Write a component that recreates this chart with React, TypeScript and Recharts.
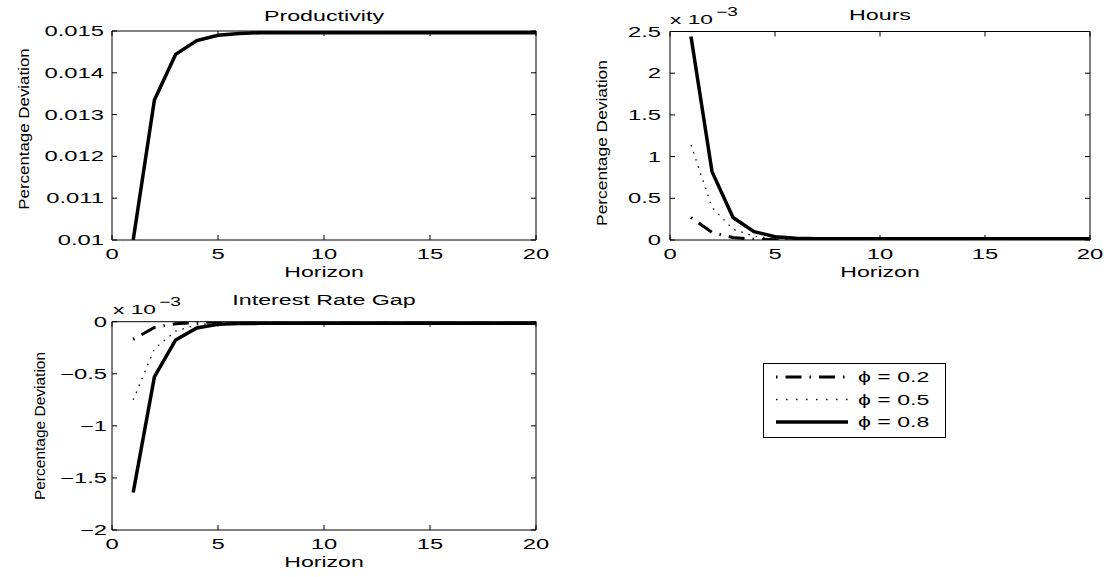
import React from 'react';
import { LineChart, Line, XAxis, YAxis, Legend, Label } from 'recharts';

// ---------- data ----------
const horizon = [1, 2, 3, 4, 5, 6, 7, 8, 9, 10, 11, 12, 13, 14, 15, 16, 17, 18, 19, 20];
const productivity = [0.01, 0.01335, 0.01444, 0.01477, 0.0149, 0.01494, 0.01496, 0.01496, 0.01496, 0.01496, 0.01496, 0.01496, 0.01496, 0.01496, 0.01496, 0.01496, 0.01496, 0.01496, 0.01496, 0.01496];
// hours, in units of 10^-3
const hoursPhi02 = [0.27, 0.09, 0.03, 0.01, 0.004, 0.002, 0.001, 0, 0, 0, 0, 0, 0, 0, 0, 0, 0, 0, 0, 0];
const hoursPhi05 = [1.14, 0.39, 0.13, 0.045, 0.016, 0.006, 0.002, 0.001, 0, 0, 0, 0, 0, 0, 0, 0, 0, 0, 0, 0];
const hoursPhi08 = [2.44, 0.82, 0.27, 0.1, 0.04, 0.02, 0.016, 0.015, 0.015, 0.015, 0.015, 0.015, 0.015, 0.015, 0.015, 0.015, 0.015, 0.015, 0.015, 0.015];
// interest rate gap, in units of 10^-3
const gapPhi02 = [-0.17, -0.055, -0.02, -0.007, -0.002, -0.001, 0, 0, 0, 0, 0, 0, 0, 0, 0, 0, 0, 0, 0, 0];
const gapPhi05 = [-0.75, -0.26, -0.09, -0.03, -0.01, -0.004, -0.001, 0, 0, 0, 0, 0, 0, 0, 0, 0, 0, 0, 0, 0];
const gapPhi08 = [-1.64, -0.53, -0.175, -0.06, -0.025, -0.017, -0.016, -0.016, -0.016, -0.016, -0.016, -0.016, -0.016, -0.016, -0.016, -0.016, -0.016, -0.016, -0.016, -0.016];

const xTicks = [0, 5, 10, 15, 20];
const prodTicks = [0.01, 0.011, 0.012, 0.013, 0.014, 0.015];
const prodTickLabels = ['0.01', '0.011', '0.012', '0.013', '0.014', '0.015'];
const hoursTicks = [0, 0.5, 1, 1.5, 2, 2.5];
const hoursTickLabels = ['0', '0.5', '1', '1.5', '2', '2.5'];
const gapTicks = [-2, -1.5, -1, -0.5, 0];
const gapTickLabels = ['\u22122', '\u22121.5', '\u22121', '\u22120.5', '0'];
const seriesNames = ['\u03d5 = 0.2', '\u03d5 = 0.5', '\u03d5 = 0.8'];
const titles = ['Productivity', 'Hours', 'Interest Rate Gap'];
const xLabel = 'Horizon';
const yLabel = 'Percentage Deviation';

const prodData = horizon.map((h, i) => ({ h, v: productivity[i] }));
const hoursData = horizon.map((h, i) => ({ h, a: hoursPhi02[i], b: hoursPhi05[i], c: hoursPhi08[i] }));
const gapData = horizon.map((h, i) => ({ h, a: gapPhi02[i], b: gapPhi05[i], c: gapPhi08[i] }));

// ---------- styles ----------
const FONT = "'Liberation Sans', Arial, Helvetica, sans-serif";
const styles = [
  { strokeWidth: 3, strokeDasharray: '1.5 8 16 8' },
  { strokeWidth: 1.3, strokeDasharray: '1.5 6' },
  { strokeWidth: 3.5, strokeDasharray: undefined as string | undefined },
];

function SText({ x, y, sx = 1.7, size = 14, anchor = 'start', children }: any) {
  return (
    <text
      transform={`translate(${x},${y}) scale(${sx},1)`}
      textAnchor={anchor}
      fontSize={size}
      fontFamily={FONT}
      fill="#000"
    >
      {children}
    </text>
  );
}

function VText({ x, y, s = 1.2, size = 15.5, children }: any) {
  return (
    <text
      transform={`translate(${x},${y}) rotate(-90) scale(${s},1)`}
      textAnchor="middle"
      fontSize={size}
      fontFamily={FONT}
      fill="#000"
    >
      {children}
    </text>
  );
}

function BottomTick(props: any) {
  const { x, y, payload } = props;
  return (
    <g>
      <line x1={x} x2={x} y1={y} y2={y - 5} stroke="#000" strokeWidth={1} />
      <SText x={x} y={y + 19.3} anchor="middle" size={14} sx={1.7}>
        {String(payload.value)}
      </SText>
    </g>
  );
}

function TopTick(props: any) {
  const { x, y } = props;
  return <line x1={x} x2={x} y1={y} y2={y + 5} stroke="#000" strokeWidth={1} />;
}

function RightTick(props: any) {
  const { x, y } = props;
  return <line x1={x} x2={x - 5} y1={y} y2={y} stroke="#000" strokeWidth={1} />;
}

function makeLeftTick(ticks: number[], labels: string[], gap: number) {
  return function LeftTick(props: any) {
    const { x, y, payload } = props;
    let idx = 0;
    let best = Infinity;
    ticks.forEach((t, i) => {
      const d = Math.abs(t - payload.value);
      if (d < best) {
        best = d;
        idx = i;
      }
    });
    return (
      <g>
        <line x1={x} x2={x + 5} y1={y} y2={y} stroke="#000" strokeWidth={1} />
        <SText x={x - gap} y={y + 5} anchor="end" size={14} sx={1.7}>
          {labels[idx]}
        </SText>
      </g>
    );
  };
}

const ProdTick = makeLeftTick(prodTicks, prodTickLabels, 8);
const HoursTick = makeLeftTick(hoursTicks, hoursTickLabels, 9);
const GapTick = makeLeftTick(gapTicks, gapTickLabels, 5);

const axisLine = { stroke: '#000', strokeWidth: 1 };

function LegendBox() {
  return (
    <svg width={183} height={75} style={{ display: 'block' }}>
      <rect x={0.5} y={0.5} width={182} height={74} fill="#fff" stroke="#000" strokeWidth={1} />
      {seriesNames.map((name, i) => {
        const yy = 14 + i * 22.5;
        return (
          <g key={name}>
            <line
              x1={13}
              x2={85}
              y1={yy}
              y2={yy}
              stroke="#000"
              strokeWidth={styles[i].strokeWidth}
              strokeDasharray={i === 1 ? '1.5 8.5' : styles[i].strokeDasharray}
            />
            <SText x={95} y={yy + 5} size={14} sx={1.65}>
              {name}
            </SText>
          </g>
        );
      })}
    </svg>
  );
}

function Exponent({ x, y }: { x: number; y: number }) {
  return (
    <g>
      <SText x={x} y={y} size={13} sx={1.75}>
        x 10
      </SText>
      <SText x={x + 46} y={y - 8.5} size={12} sx={1.6}>
        {'\u22123'}
      </SText>
    </g>
  );
}

export default function App() {
  const topAxis = (title: React.ReactNode) => (
    <XAxis
      xAxisId="top"
      orientation="top"
      dataKey="h"
      type="number"
      domain={[0, 20]}
      allowDataOverflow
      ticks={xTicks}
      interval={0}
      height={1}
      tickSize={0}
      tickMargin={0}
      tickLine={false}
      axisLine={axisLine}
      tick={<TopTick />}
    >
      <Label content={() => title} />
    </XAxis>
  );
  const rightAxis = (ticks: number[], domain: [number, number]) => (
    <YAxis
      yAxisId="right"
      orientation="right"
      type="number"
      domain={domain}
      allowDataOverflow
      ticks={ticks}
      interval={0}
      width={1}
      tickSize={0}
      tickMargin={0}
      tickLine={false}
      axisLine={axisLine}
      tick={<RightTick />}
    />
  );

  return (
    <div
      style={{
        position: 'absolute',
        left: 0,
        top: 0,
        width: 1112,
        height: 577,
        overflow: 'hidden',
        background: '#fff',
      }}
    >
      {/* Productivity */}
      <div style={{ position: 'absolute', left: 0, top: 0 }}>
        <LineChart width={560} height={290} data={prodData} margin={{ top: 30, right: 23, bottom: 0, left: 0 }}>
          <XAxis
            dataKey="h"
            type="number"
            domain={[0, 20]}
            allowDataOverflow
            ticks={xTicks}
            interval={0}
            height={50}
            tickSize={0}
            tickMargin={0}
            tickLine={false}
            axisLine={axisLine}
            tick={<BottomTick />}
          >
            <Label content={() => <SText x={324} y={276.7} anchor="middle" size={14} sx={1.65}>{xLabel}</SText>} />
          </XAxis>
          <YAxis
            type="number"
            domain={[0.01, 0.015]}
            allowDataOverflow
            ticks={prodTicks}
            interval={0}
            width={112}
            tickSize={0}
            tickMargin={0}
            tickLine={false}
            axisLine={axisLine}
            tick={<ProdTick />}
          >
            <Label content={() => <VText x={28.5} y={129} s={1.09}>{yLabel}</VText>} />
          </YAxis>
          {topAxis(<SText x={324} y={20.7} anchor="middle" size={15.5} sx={1.5}>{titles[0]}</SText>)}
          {rightAxis(prodTicks, [0.01, 0.015])}
          <Line
            dataKey="v"
            name="Productivity"
            type="linear"
            stroke="#000"
            strokeWidth={3.5}
            dot={false}
            activeDot={false}
            isAnimationActive={false}
          />
        </LineChart>
      </div>

      {/* Hours */}
      <div style={{ position: 'absolute', left: 560, top: 0 }}>
        <LineChart width={552} height={290} data={hoursData} margin={{ top: 30.5, right: 21, bottom: 0, left: 0 }}>
          <XAxis
            dataKey="h"
            type="number"
            domain={[0, 20]}
            allowDataOverflow
            ticks={xTicks}
            interval={0}
            height={50}
            tickSize={0}
            tickMargin={0}
            tickLine={false}
            axisLine={axisLine}
            tick={<BottomTick />}
          >
            <Label content={() => <SText x={320} y={276.7} anchor="middle" size={14} sx={1.65}>{xLabel}</SText>} />
          </XAxis>
          <YAxis
            type="number"
            domain={[0, 2.5]}
            allowDataOverflow
            ticks={hoursTicks}
            interval={0}
            width={110}
            tickSize={0}
            tickMargin={0}
            tickLine={false}
            axisLine={axisLine}
            tick={<HoursTick />}
          >
            <Label content={() => <VText x={46.5} y={143} s={1.12}>{yLabel}</VText>} />
          </YAxis>
          {topAxis(
            <g>
              <SText x={320} y={20} anchor="middle" size={15.5} sx={1.5}>{titles[1]}</SText>
              <Exponent x={110} y={24} />
            </g>
          )}
          {rightAxis(hoursTicks, [0, 2.5])}
          {(['a', 'b', 'c'] as const).map((k, i) => (
            <Line
              key={k}
              dataKey={k}
              name={seriesNames[i]}
              type="linear"
              stroke="#000"
              strokeWidth={styles[i].strokeWidth}
              strokeDasharray={styles[i].strokeDasharray}
              dot={false}
              activeDot={false}
              isAnimationActive={false}
            />
          ))}
        </LineChart>
      </div>

      {/* Interest Rate Gap */}
      <div style={{ position: 'absolute', left: 0, top: 290 }}>
        <LineChart width={1112} height={287} data={gapData} margin={{ top: 30.7, right: 575, bottom: 0, left: 0 }}>
          <XAxis
            dataKey="h"
            type="number"
            domain={[0, 20]}
            allowDataOverflow
            ticks={xTicks}
            interval={0}
            height={47}
            tickSize={0}
            tickMargin={0}
            tickLine={false}
            axisLine={axisLine}
            tick={<BottomTick />}
          >
            <Label content={() => <SText x={324} y={276.7} anchor="middle" size={14} sx={1.65}>{xLabel}</SText>} />
          </XAxis>
          <YAxis
            type="number"
            domain={[-2, 0]}
            allowDataOverflow
            ticks={gapTicks}
            interval={0}
            width={112}
            tickSize={0}
            tickMargin={0}
            tickLine={false}
            axisLine={axisLine}
            tick={<GapTick />}
          >
            <Label content={() => <VText x={45} y={136} s={1.0}>{yLabel}</VText>} />
          </YAxis>
          {topAxis(
            <g>
              <SText x={324} y={15.3} anchor="middle" size={15.5} sx={1.5}>{titles[2]}</SText>
              <Exponent x={113} y={24} />
            </g>
          )}
          {rightAxis(gapTicks, [-2, 0])}
          {(['a', 'b', 'c'] as const).map((k, i) => (
            <Line
              key={k}
              dataKey={k}
              name={seriesNames[i]}
              type="linear"
              stroke="#000"
              strokeWidth={styles[i].strokeWidth}
              strokeDasharray={styles[i].strokeDasharray}
              dot={false}
              activeDot={false}
              isAnimationActive={false}
            />
          ))}
          <Legend
            layout="horizontal"
            verticalAlign="middle"
            align="center"
            content={() => <LegendBox />}
            wrapperStyle={{ position: 'absolute', left: 763, top: 73, width: 183, height: 75, margin: 0, padding: 0 }}
          />
        </LineChart>
      </div>
    </div>
  );
}
